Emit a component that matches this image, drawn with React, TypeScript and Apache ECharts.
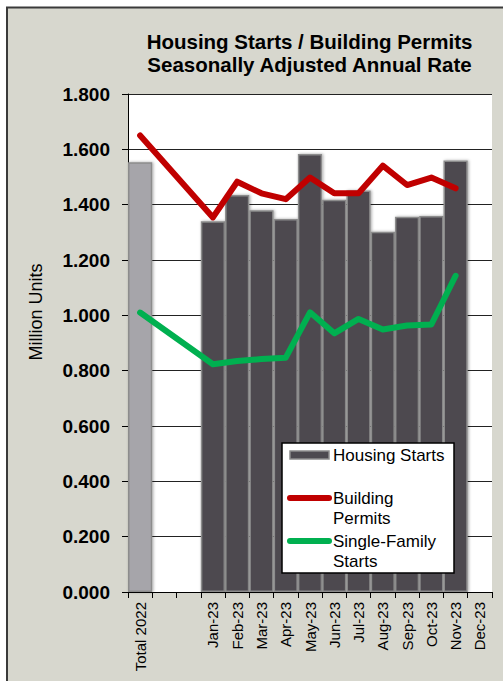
import React, { useEffect, useRef } from "react";
import * as echarts from "echarts";

const categories = [
  "Total 2022", "", "",
  "Jan-23", "Feb-23", "Mar-23", "Apr-23", "May-23", "Jun-23",
  "Jul-23", "Aug-23", "Sep-23", "Oct-23", "Nov-23", "Dec-23",
];
const housingStarts = [1.553, null, null, 1.340, 1.435, 1.380, 1.348, 1.583, 1.418, 1.451, 1.302, 1.356, 1.359, 1.560, null];
const buildingPermits = [1.650, null, null, 1.354, 1.483, 1.441, 1.420, 1.498, 1.441, 1.441, 1.541, 1.471, 1.498, 1.459, null];
const singleFamilyStarts = [1.010, null, null, 0.823, 0.835, 0.842, 0.847, 1.011, 0.935, 0.987, 0.949, 0.963, 0.967, 1.143, null];
const titleLines = ["Housing Starts / Building Permits", "Seasonally Adjusted Annual Rate"];
const yAxisName = "Million Units";
const seriesNames = ["Housing Starts", "Building Permits", "Single-Family Starts"];
const legendLabels = ["Housing Starts", "Building\nPermits", "Single-Family\nStarts"];

const FONT = "Arial, 'Liberation Sans', sans-serif";
const BAR_COLOR = "#4d4a50";
const TOTAL_BAR_COLOR = "#a6a5aa";
const BAR_BORDER = "#8c8c8c";
const RED = "#c00000";
const GREEN = "#00b050";

export default function App() {
  const ref = useRef<HTMLDivElement>(null);
  useEffect(() => {
    if (!ref.current) return;
    const chart = echarts.init(ref.current, undefined, { renderer: "svg" });
    const barData = housingStarts.map((v, i) =>
      i === 0
        ? { value: v, itemStyle: { color: TOTAL_BAR_COLOR } }
        : v
    );
    chart.setOption({
      animation: false,
      backgroundColor: "#ffffff",
      grid: {
        left: 128,
        top: 94,
        width: 364,
        height: 498,
        show: true,
        backgroundColor: "#ffffff",
        borderWidth: 0,
      },
      xAxis: {
        type: "category",
        data: categories,
        boundaryGap: true,
        axisLine: { show: true, lineStyle: { color: "#000", width: 1 } },
        axisTick: { show: true, interval: 0, length: 6, lineStyle: { color: "#000" } },
        axisLabel: {
          interval: 0,
          rotate: 90,
          margin: 10,
          fontSize: 15,
          fontFamily: FONT,
          color: "#000",
        },
        splitLine: { show: false },
      },
      yAxis: {
        type: "value",
        min: 0,
        max: 1.8,
        interval: 0.2,
        axisLine: { show: true, lineStyle: { color: "#000", width: 1 } },
        axisTick: { show: true, length: 6, lineStyle: { color: "#000" } },
        axisLabel: {
          formatter: (v: number) => v.toFixed(3),
          fontSize: 19,
          fontWeight: "bold",
          fontFamily: FONT,
          color: "#000",
          margin: 18,
        },
        splitLine: { show: true, lineStyle: { color: "#222", width: 1 } },
      },
      graphic: [
        {
          type: "rect",
          z: -10,
          silent: true,
          shape: { x: 7, y: 7.5, width: 620, height: 700 },
          style: { fill: "#d7d7ce", stroke: "#3a3a3a", lineWidth: 2 },
        },
        {
          type: "text",
          x: 309.5,
          y: 41.5,
          z: 10,
          style: {
            text: titleLines[0],
            font: `bold 20.5px ${FONT}`,
            fill: "#000",
            textAlign: "center",
            textVerticalAlign: "middle",
          },
        },
        {
          type: "text",
          x: 309.5,
          y: 64,
          z: 10,
          style: {
            text: titleLines[1],
            font: `bold 20.5px ${FONT}`,
            fill: "#000",
            textAlign: "center",
            textVerticalAlign: "middle",
          },
        },
        {
          type: "text",
          x: 36,
          y: 312,
          rotation: Math.PI / 2,
          z: 10,
          style: {
            text: yAxisName,
            font: `18px ${FONT}`,
            fill: "#000",
            textAlign: "center",
            textVerticalAlign: "middle",
          },
        },
        {
          type: "group",
          z: 100,
          children: [
            {
              type: "rect",
              z: 100,
              shape: { x: 282, y: 443, width: 172, height: 130 },
              style: { fill: "#fff", stroke: "#000", lineWidth: 1.5 },
            },
            {
              type: "rect",
              z: 101,
              shape: { x: 290, y: 451, width: 39, height: 8 },
              style: { fill: BAR_COLOR, stroke: BAR_BORDER, lineWidth: 1.5 },
            },
            {
              type: "text",
              z: 101,
              x: 333,
              y: 455,
              style: {
                text: legendLabels[0],
                font: `17px ${FONT}`,
                fill: "#000",
                textVerticalAlign: "middle",
              },
            },
            {
              type: "line",
              z: 101,
              shape: { x1: 290, y1: 498, x2: 329, y2: 498 },
              style: { stroke: RED, lineWidth: 6, lineCap: "round" },
            },
            {
              type: "text",
              z: 101,
              x: 333,
              y: 508,
              style: {
                text: legendLabels[1],
                font: `17px ${FONT}`,
                lineHeight: 20,
                fill: "#000",
                textVerticalAlign: "middle",
              },
            },
            {
              type: "line",
              z: 101,
              shape: { x1: 290, y1: 541, x2: 329, y2: 541 },
              style: { stroke: GREEN, lineWidth: 6, lineCap: "round" },
            },
            {
              type: "text",
              z: 101,
              x: 333,
              y: 551,
              style: {
                text: legendLabels[2],
                font: `17px ${FONT}`,
                lineHeight: 20,
                fill: "#000",
                textVerticalAlign: "middle",
              },
            },
          ],
        },
      ],
      series: [
        {
          name: seriesNames[0],
          type: "bar",
          data: barData,
          barCategoryGap: "0%",
          itemStyle: {
            color: BAR_COLOR,
            borderColor: BAR_BORDER,
            borderWidth: 1.5,
            shadowColor: "rgba(0,0,0,0.35)",
            shadowBlur: 3,
            shadowOffsetX: 1,
            shadowOffsetY: 0,
          },
          z: 2,
        },
        {
          name: seriesNames[1],
          type: "line",
          data: buildingPermits,
          connectNulls: true,
          symbol: "none",
          lineStyle: { color: RED, width: 6, cap: "round", join: "round" },
          itemStyle: { color: RED },
          z: 3,
        },
        {
          name: seriesNames[2],
          type: "line",
          data: singleFamilyStarts,
          connectNulls: true,
          symbol: "none",
          lineStyle: { color: GREEN, width: 6, cap: "round", join: "round" },
          itemStyle: { color: GREEN },
          z: 3,
        },
      ],
    });
    return () => chart.dispose();
  }, []);
  return (
    <div
      ref={ref}
      style={{ position: "absolute", left: 0, top: 0, width: 503, height: 681 }}
    />
  );
}
